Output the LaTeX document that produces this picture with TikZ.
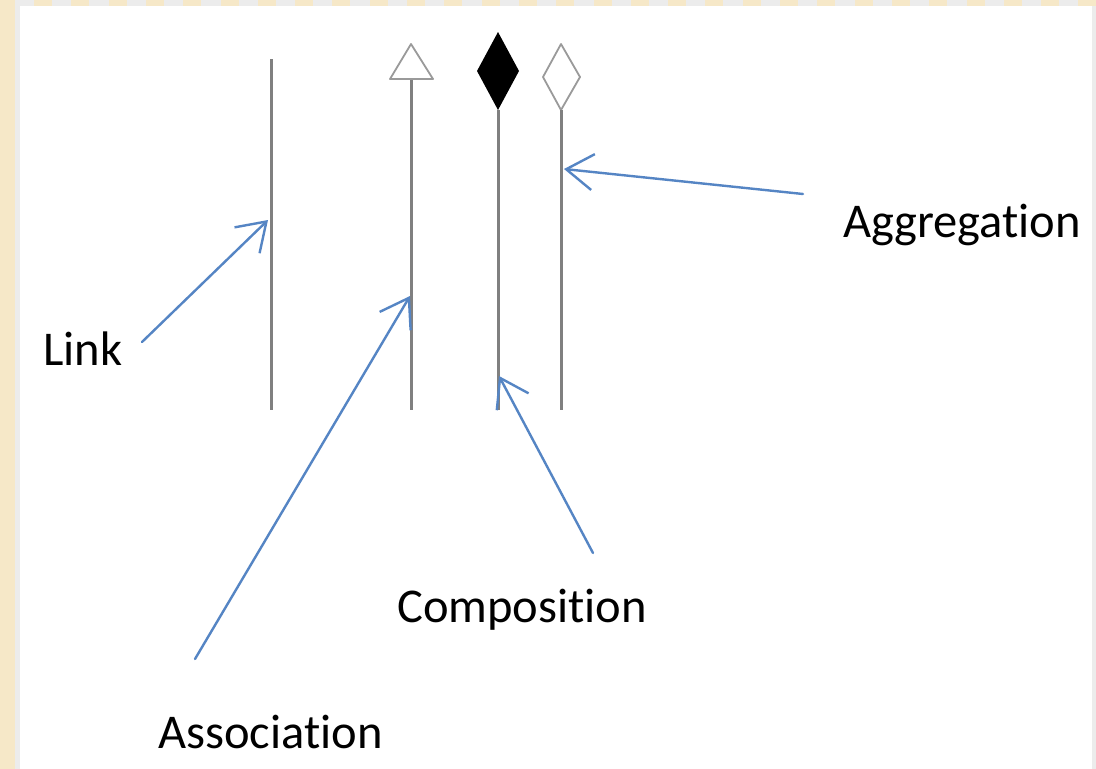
\documentclass[tikz,border=0pt]{standalone}
\usepackage{fontspec}
\setmainfont{Carlito}[Ligatures=NoCommon]
\usetikzlibrary{arrows.meta}
\definecolor{umlgray}{HTML}{808080}
\definecolor{hollowgray}{HTML}{9A9A9A}
\definecolor{arrowblue}{HTML}{5585C4}
\definecolor{frametan}{HTML}{F6E8C8}
\definecolor{framegray}{HTML}{ECECEC}

\begin{document}
\begin{tikzpicture}[line cap=round,line join=round,x=1pt,y=-1pt,
  umlline/.style={draw=umlgray,line width=3pt,line cap=butt},
  pointer/.style={draw=arrowblue,line width=2.4pt,-{Straight Barb[length=27pt,width=36pt,line width=2.4pt]}},
  umltag/.style={anchor=base west,inner sep=0pt,font=\fontsize{48.5}{58}\selectfont}]
\useasboundingbox (0,0) rectangle (1096,769);
% frame
\fill[framegray] (0,0) rectangle (1096,769);
\fill[frametan] (0,0) rectangle (15,769);
\foreach \i in {0,...,28}
  \fill[frametan] (34+37.3*\i,0) rectangle +(18,6);
\fill[white] (20,6) rectangle (1092,769);
% link
\draw[umlline] (271,59) -- (271,410);
% association
\draw[umlline] (411,79) -- (411,410);
\draw[draw=hollowgray,line width=1.8pt] (411,44) -- (433,79) -- (390,79) -- cycle;
% composition
\fill[black] (498,32) -- (519,71) -- (498,110) -- (477,71) -- cycle;
\draw[umlline] (498,110) -- (498,410);
% aggregation
\draw[draw=hollowgray,line width=1.8pt] (561,44) -- (580,77) -- (561,110) -- (543,77) -- cycle;
\draw[umlline] (561,110) -- (561,410);
% labels
\node[umltag] (link) at (43,365) {Link};
\node[umltag] (aggregation) at (843,237) {Aggregation};
\node[umltag] (composition) at (397,622) {Composition};
\node[umltag] (association) at (158,748) {Association};
% pointer ends
\coordinate (linkTail) at (142,342);
\coordinate (linkTip) at (268,220);
\coordinate (assocTail) at (195,659);
\coordinate (assocTip) at (410,296);
\coordinate (compTail) at (593,553);
\coordinate (compTip) at (499,376);
\coordinate (aggrTail) at (803,194);
\coordinate (aggrTip) at (564,169);
\draw[pointer] (linkTail) -- (linkTip);
\draw[pointer] (assocTail) -- (assocTip);
\draw[pointer] (compTail) -- (compTip);
\draw[pointer] (aggrTail) -- (aggrTip);
\end{tikzpicture}
\end{document}
